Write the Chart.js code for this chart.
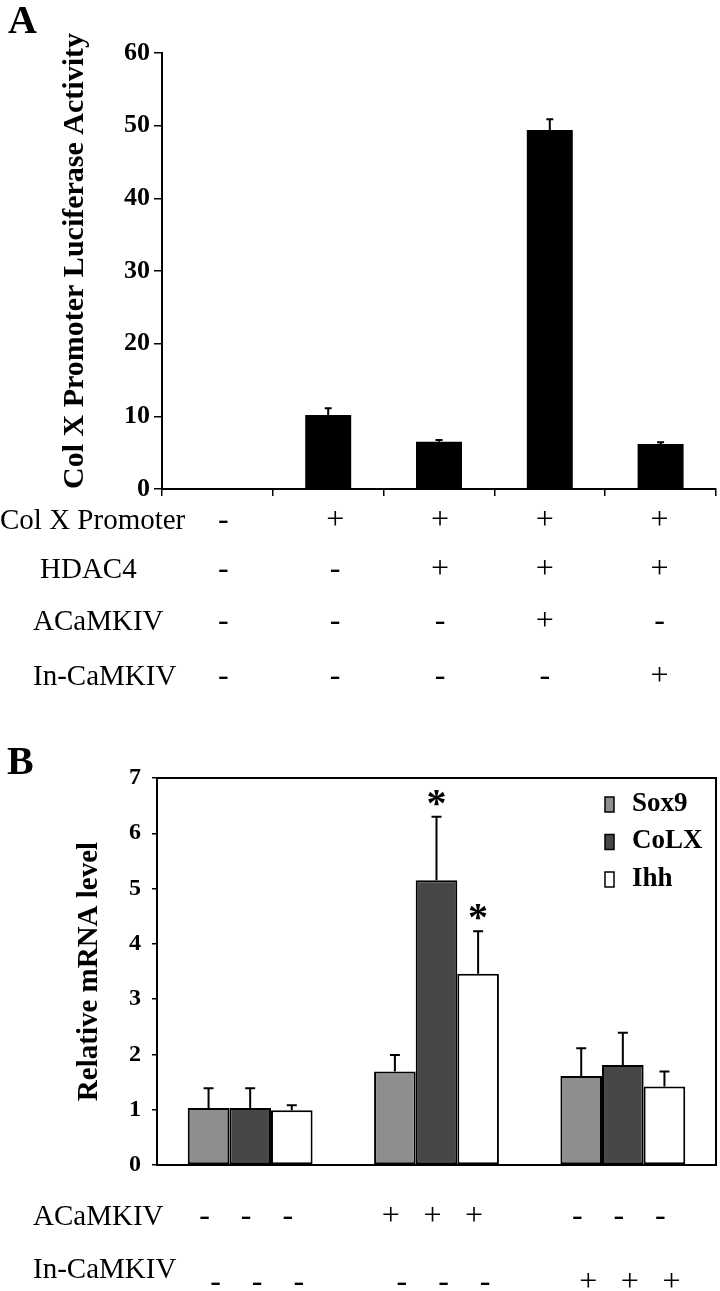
<!DOCTYPE html>
<html lang="en">
<head>
<meta charset="UTF-8">
<title>Col X promoter / relative mRNA</title>
<script src="https://cdn.jsdelivr.net/npm/chart.js"></script>
<style>
  body { margin: 0; background: white; }
  #wrapA { position: absolute; left: 0; top: 0; width: 720px; height: 700px; }
  #wrapB { position: absolute; left: 0; top: 700px; width: 720px; height: 591px; }
</style>
</head>
<body>
<div id="wrapA"><canvas id="chartA"></canvas></div>
<div id="wrapB"><canvas id="chartB"></canvas></div>
<script>
// ---- panel A data ----
const groupsA = ["ctrl", "ColX", "ColX+HDAC4", "ColX+HDAC4+ACaMKIV", "ColX+HDAC4+In-CaMKIV"];
const luciferase = [0, 10.2, 6.5, 49.4, 6.2];
const luciferaseErr = [0, 0.9, 0.25, 1.5, 0.25];
const ticksA = [0, 10, 20, 30, 40, 50, 60];
const colXPromoter = ["-", "+", "+", "+", "+"];
const hdac4 = ["-", "-", "+", "+", "+"];
const acamkivA = ["-", "-", "-", "+", "-"];
const incamkivA = ["-", "-", "-", "-", "+"];

// ---- panel B data ----
const groupsB = ["control", "ACaMKIV", "In-CaMKIV"];
const sox9 = [1.03, 1.69, 1.61];
const sox9Err = [0.36, 0.3, 0.5];
const colx = [1.03, 5.15, 1.81];
const colxErr = [0.36, 1.15, 0.58];
const ihh = [0.99, 3.46, 1.42];
const ihhErr = [0.09, 0.77, 0.27];
const colxStar = ["", "*", ""];
const ihhStar = ["", "*", ""];
const ticksB = [0, 1, 2, 3, 4, 5, 6, 7];
// one sign per bar, group by group (Sox9, CoLX, Ihh)
const acamkivB = ["-", "-", "-", "+", "+", "+", "-", "-", "-"];
const incamkivB = ["-", "-", "-", "-", "-", "-", "+", "+", "+"];

const serif = "'Liberation Serif', 'Times New Roman', serif";
Chart.defaults.color = "#000";
Chart.defaults.font.family = serif;

// error bars (+ optional star) on top of each bar
const errorBars = {
  id: "errorBars",
  afterDatasetsDraw(chart, args, opts) {
    const ctx = chart.ctx, y = chart.scales.y;
    chart.data.datasets.forEach((ds, di) => {
      if (!ds.errors) return;
      chart.getDatasetMeta(di).data.forEach((bar, i) => {
        const e = ds.errors[i];
        if (!e) return;
        const top = y.getPixelForValue(ds.data[i] + e);
        ctx.save();
        ctx.strokeStyle = "#000";
        ctx.lineWidth = opts.width;
        ctx.beginPath();
        ctx.moveTo(bar.x, bar.y);
        ctx.lineTo(bar.x, top);
        ctx.moveTo(bar.x - opts.cap / 2, top);
        ctx.lineTo(bar.x + opts.cap / 2, top);
        ctx.stroke();
        if (ds.stars && ds.stars[i]) {
          ctx.fillStyle = "#000";
          ctx.font = "bold 40px " + serif;
          ctx.textAlign = "center";
          ctx.textBaseline = "alphabetic";
          ctx.fillText(ds.stars[i], bar.x, top - 1);
        }
        ctx.restore();
      });
    });
  }
};

// +/- table under the plot, panel letter
const signTable = {
  id: "signTable",
  afterDraw(chart, args, opts) {
    const ctx = chart.ctx;
    let xs = [];
    if (opts.perBar) {
      const n = chart.data.labels.length;
      for (let g = 0; g < n; g++) {
        chart.data.datasets.forEach((ds, di) => xs.push(chart.getDatasetMeta(di).data[g].x));
      }
    } else {
      xs = chart.data.labels.map((l, i) => chart.scales.x.getPixelForValue(i));
    }
    ctx.save();
    ctx.fillStyle = "#000";
    ctx.textBaseline = "middle";
    opts.rows.forEach(r => {
      ctx.font = "29px " + serif;
      ctx.textAlign = "left";
      ctx.fillText(r.label, r.x, r.y);
      ctx.font = "32px " + serif;
      ctx.textAlign = "center";
      r.signs.forEach((s, i) => {
        const shift = (opts.shift ? opts.shift[i] : 0) + (r.dx || 0);
        ctx.fillText(s, xs[i] + shift, r.y + (r.dy || 0));
      });
    });
    ctx.font = "bold " + opts.letterSize + "px " + serif;
    ctx.textAlign = "left";
    ctx.textBaseline = "alphabetic";
    ctx.fillText(opts.letter, opts.letterX, opts.letterY);
    ctx.restore();
  }
};

// box round the plot and legend inside it (panel B)
const boxLegend = {
  id: "boxLegend",
  afterDraw(chart, args, opts) {
    const ctx = chart.ctx, a = chart.chartArea;
    ctx.save();
    ctx.strokeStyle = "#000";
    ctx.lineWidth = 2;
    ctx.beginPath();
    ctx.moveTo(a.left, a.top);
    ctx.lineTo(a.right, a.top);
    ctx.lineTo(a.right, a.bottom);
    ctx.stroke();
    ctx.font = "bold 27px " + serif;
    ctx.textBaseline = "middle";
    ctx.textAlign = "left";
    chart.data.datasets.forEach((ds, i) => {
      const ly = a.top + 26 + i * 37.5;
      const lx = a.right - 111;
      ctx.fillStyle = ds.backgroundColor;
      ctx.fillRect(lx, ly - 7, 9, 15);
      ctx.lineWidth = 1.5;
      ctx.strokeRect(lx, ly - 7, 9, 15);
      ctx.fillStyle = "#000";
      ctx.fillText(ds.label, lx + 27, ly);
    });
    ctx.restore();
  }
};

new Chart(document.getElementById("chartA"), {
  type: "bar",
  data: {
    labels: groupsA,
    datasets: [{
      label: "Col X promoter luciferase",
      data: luciferase,
      errors: luciferaseErr,
      backgroundColor: "#000",
      borderWidth: 0,
      barPercentage: 0.415,
      categoryPercentage: 1
    }]
  },
  options: {
    responsive: true,
    maintainAspectRatio: false,
    animation: false,
    layout: { padding: { top: 53, right: 4, bottom: 203, left: 0 } },
    plugins: {
      legend: { display: false },
      tooltip: { enabled: false },
      errorBars: { width: 2, cap: 7 },
      signTable: {
        rows: [
          { label: "Col X Promoter", x: 0, y: 521, signs: colXPromoter },
          { label: "HDAC4", x: 40, y: 570, signs: hdac4 },
          { label: "ACaMKIV", x: 33, y: 622, signs: acamkivA },
          { label: "In-CaMKIV", x: 33, y: 677, signs: incamkivA }
        ],
        shift: [6, 7, 1, -5, -1],
        letter: "A", letterX: 8, letterY: 33, letterSize: 40
      }
    },
    scales: {
      x: {
        grid: { offset: true, drawOnChartArea: false, drawTicks: true, tickLength: 7, color: "#000", lineWidth: 1.5 },
        border: { display: true, color: "#000", width: 2 },
        ticks: { display: false },
        afterFit: s => { s.height = 8; }
      },
      y: {
        min: 0, max: 60,
        afterBuildTicks: s => { s.ticks = ticksA.map(v => ({ value: v })); },
        grid: { drawOnChartArea: false, drawTicks: true, tickLength: 8, color: "#000", lineWidth: 1.5 },
        border: { display: true, color: "#000", width: 2 },
        ticks: { padding: 4, font: { size: 26, weight: "bold" } },
        title: {
          display: true,
          text: "Col X Promoter Luciferase Activity",
          align: "start",
          font: { size: 30, weight: "bold" },
          padding: { top: 57, bottom: 0 }
        },
        afterFit: s => { s.width = 162; }
      }
    }
  },
  plugins: [errorBars, signTable]
});

new Chart(document.getElementById("chartB"), {
  type: "bar",
  data: {
    labels: groupsB,
    datasets: [
      { label: "Sox9", data: sox9, errors: sox9Err, backgroundColor: "#8e8e8e" },
      { label: "CoLX", data: colx, errors: colxErr, stars: colxStar, backgroundColor: "#474747" },
      { label: "Ihh", data: ihh, errors: ihhErr, stars: ihhStar, backgroundColor: "#ffffff" }
    ].map(d => Object.assign(d, {
      borderColor: "#000", borderWidth: 2, borderSkipped: false,
      barPercentage: 1, categoryPercentage: 0.67
    }))
  },
  options: {
    responsive: true,
    maintainAspectRatio: false,
    animation: false,
    layout: { padding: { top: 78, right: 4, bottom: 126, left: 0 } },
    plugins: {
      legend: { display: false },
      tooltip: { enabled: false },
      errorBars: { width: 2, cap: 10 },
      signTable: {
        perBar: true,
        rows: [
          { label: "ACaMKIV", x: 33, y: 517, signs: acamkivB, dx: -4 },
          { label: "In-CaMKIV", x: 33, y: 570, signs: incamkivB, dx: 7, dy: 13 }
        ],
        letter: "B", letterX: 7, letterY: 74, letterSize: 40
      }
    },
    scales: {
      x: {
        grid: { display: false },
        border: { display: true, color: "#000", width: 2 },
        ticks: { display: false },
        afterFit: s => { s.height = 0; }
      },
      y: {
        min: 0, max: 7,
        afterBuildTicks: s => { s.ticks = ticksB.map(v => ({ value: v })); },
        grid: { drawOnChartArea: false, drawTicks: true, tickLength: 5, color: "#000", lineWidth: 1.5 },
        border: { display: true, color: "#000", width: 2 },
        ticks: { padding: 11, font: { size: 24, weight: "bold" } },
        title: {
          display: true,
          text: "Relative mRNA level",
          font: { size: 29, weight: "bold" },
          padding: { top: 72, bottom: 0 }
        },
        afterFit: s => { s.width = 157; }
      }
    }
  },
  plugins: [errorBars, signTable, boxLegend]
});
</script>
</body>
</html>
